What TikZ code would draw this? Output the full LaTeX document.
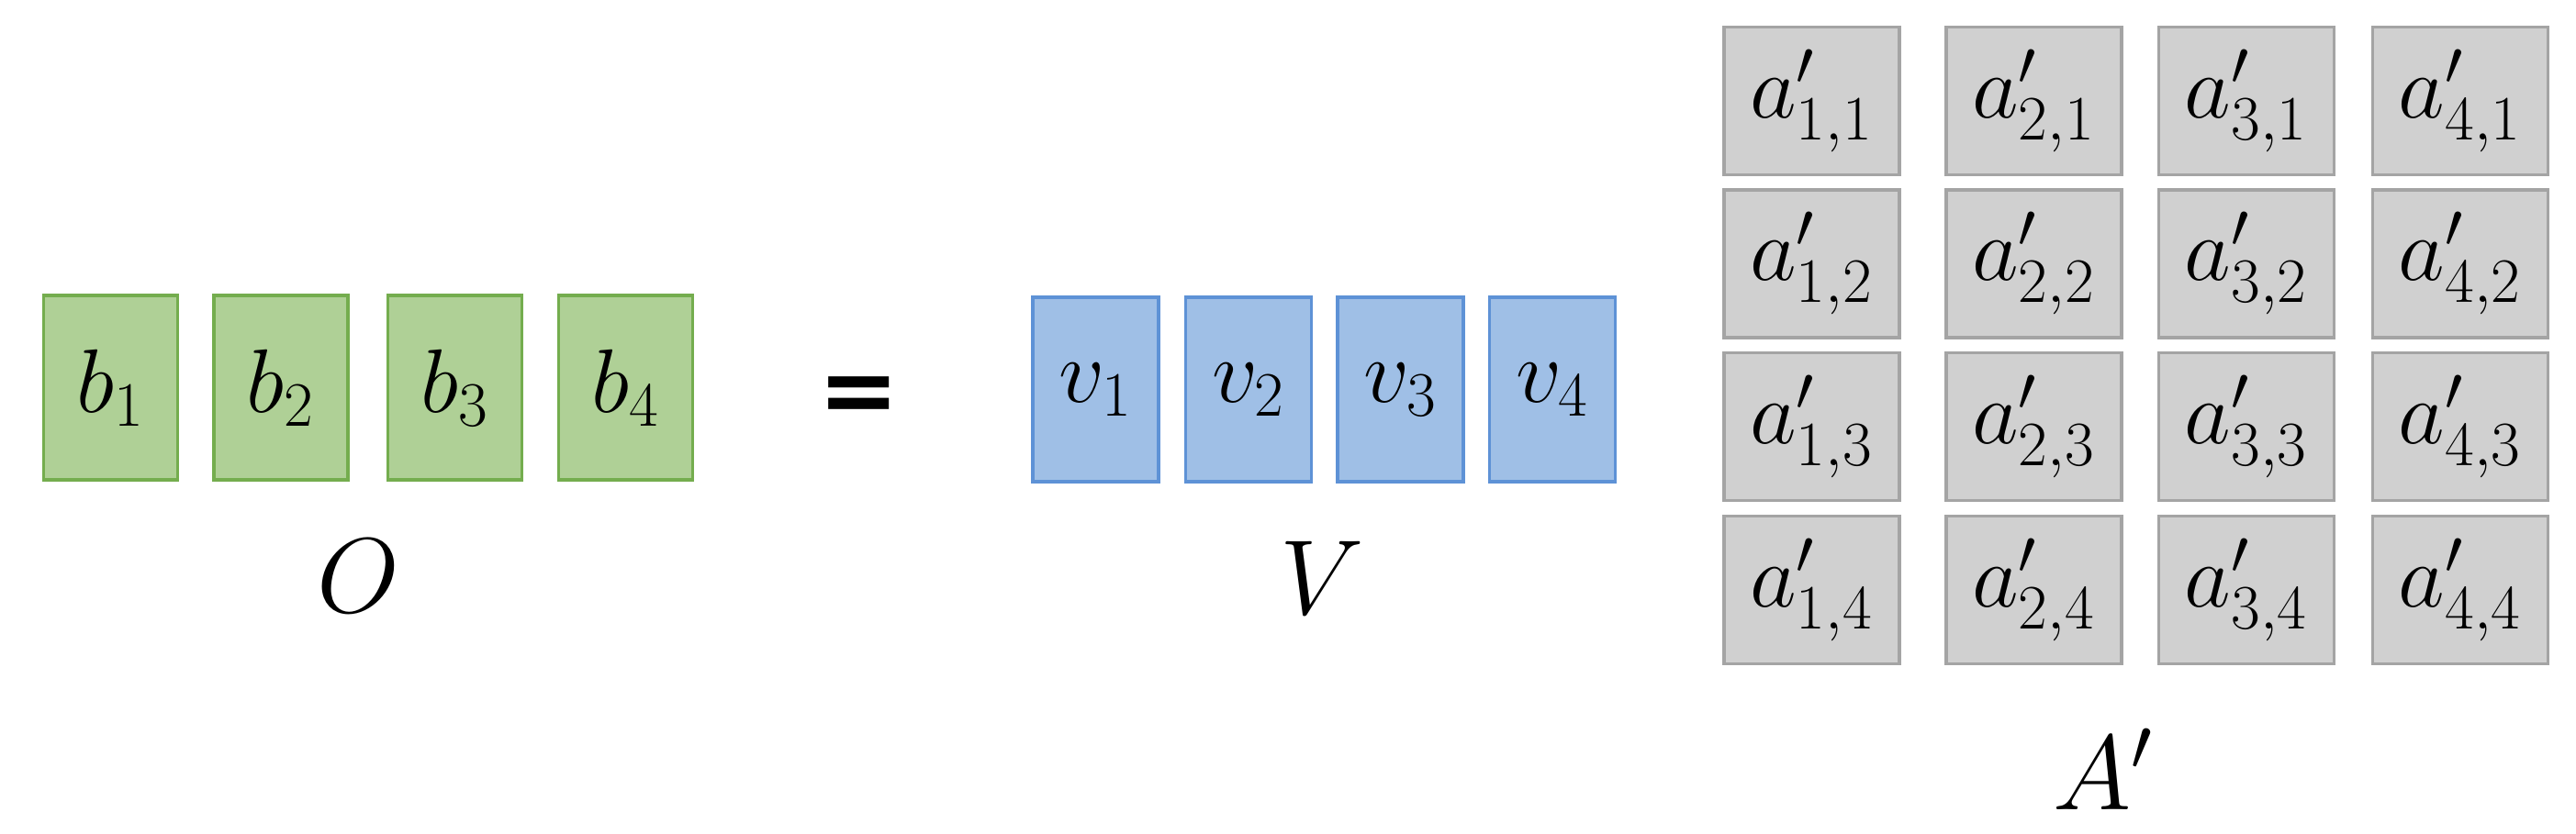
\RequirePackage{fix-cm}
\documentclass[tikz,border=0pt]{standalone}
\usepackage{amsmath}
\usepackage{fontspec}
\newfontfamily\eqfont{DejaVu Sans}
\definecolor{gfill}{HTML}{AFD096}
\definecolor{gline}{HTML}{74AD4E}
\definecolor{bfill}{HTML}{9FBFE6}
\definecolor{bline}{HTML}{5E92D6}
\definecolor{afill}{HTML}{D0D0D0}
\definecolor{aline}{HTML}{A4A4A4}

\begin{document}
\begin{tikzpicture}[
    gbox/.style={draw=gline,fill=gfill,line width=0.9pt,minimum width=1.46cm,minimum height=2.01cm,inner sep=0pt,font=\fontsize{28}{32}\selectfont},
    vbox/.style={draw=bline,fill=bfill,line width=0.9pt,minimum width=1.37cm,minimum height=2.01cm,inner sep=0pt,font=\fontsize{28}{32}\selectfont},
    abox/.style={draw=aline,fill=afill,line width=0.9pt,minimum width=1.91cm,minimum height=1.61cm,inner sep=0pt,font=\fontsize{28}{32}\selectfont},
    lbl/.style={anchor=base,inner sep=0pt,font=\fontsize{33}{40}\selectfont}]
      \useasboundingbox(0,0)rectangle(28.06,9.08);
      %O
        \node[gbox](b1)at(1.205,4.855){$b_1$};
        \node[gbox](b2)at(3.06,4.855){$b_2$};
        \node[gbox](b3)at(4.955,4.855){$b_3$};
        \node[gbox](b4)at(6.815,4.855){$b_4$};
        \node[lbl](O)at(3.9,2.41){$O$};
      %等号
        \node[inner sep=0pt,font=\eqfont\bfseries\fontsize{30}{36}\selectfont](eq)at(9.36,4.72){=};
      %V
        \node[vbox](v1)at(11.935,4.835){$v_1$};
        \node[vbox](v2)at(13.6,4.835){$v_2$};
        \node[vbox](v3)at(15.255,4.835){$v_3$};
        \node[vbox](v4)at(16.91,4.835){$v_4$};
        \node[lbl](V)at(14.4,2.39){$V$};
      %A'
        \node[abox](a11)at(19.735,7.98){$a'_{1,1}$};
        \node[abox](a21)at(22.155,7.98){$a'_{2,1}$};
        \node[abox](a31)at(24.47,7.98){$a'_{3,1}$};
        \node[abox](a41)at(26.8,7.98){$a'_{4,1}$};
        \node[abox](a12)at(19.735,6.205){$a'_{1,2}$};
        \node[abox](a22)at(22.155,6.205){$a'_{2,2}$};
        \node[abox](a32)at(24.47,6.205){$a'_{3,2}$};
        \node[abox](a42)at(26.8,6.205){$a'_{4,2}$};
        \node[abox](a13)at(19.735,4.43){$a'_{1,3}$};
        \node[abox](a23)at(22.155,4.43){$a'_{2,3}$};
        \node[abox](a33)at(24.47,4.43){$a'_{3,3}$};
        \node[abox](a43)at(26.8,4.43){$a'_{4,3}$};
        \node[abox](a14)at(19.735,2.65){$a'_{1,4}$};
        \node[abox](a24)at(22.155,2.65){$a'_{2,4}$};
        \node[abox](a34)at(24.47,2.65){$a'_{3,4}$};
        \node[abox](a44)at(26.8,2.65){$a'_{4,4}$};
        \node[lbl](A)at(22.91,0.26){$A'$};
      \end{tikzpicture}
\end{document}
